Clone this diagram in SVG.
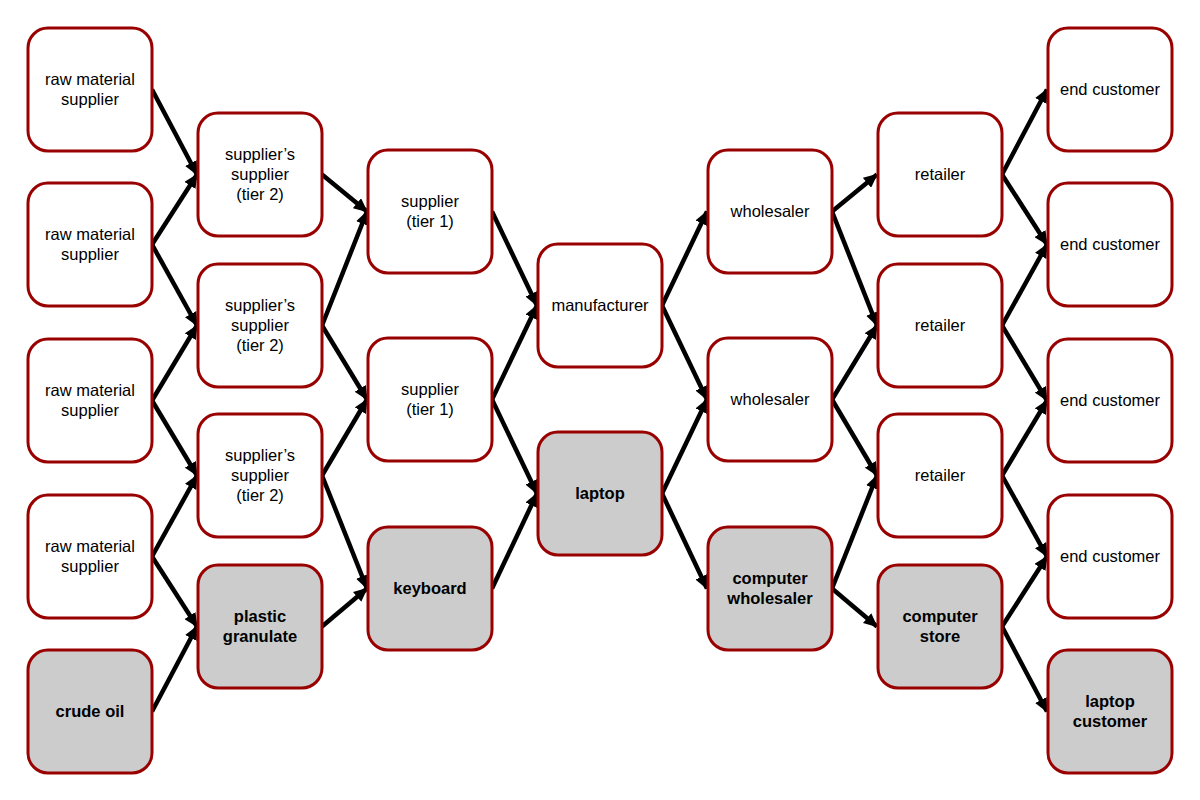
<svg xmlns="http://www.w3.org/2000/svg" width="1200" height="800" viewBox="0 0 1200 800">
<style>
.n rect{fill:#ffffff;stroke:#990000;stroke-width:3}
.g rect{fill:#cccccc;stroke:#990000;stroke-width:3}
text{font-family:"Liberation Sans",Arial,sans-serif;font-size:16.5px;fill:#000;text-anchor:middle;dominant-baseline:central}
.g text{font-weight:bold}
.c line{stroke:#000;stroke-width:4.5;marker-end:url(#ah)}
</style>
<defs>
<marker id="ah" markerUnits="userSpaceOnUse" markerWidth="14" markerHeight="13" refX="13" refY="6.5" orient="auto">
<path d="M0,0 L14,6.5 L0,13 z" fill="#000"/>
</marker>
</defs>
<rect width="1200" height="800" fill="#fff"/>
<g class="c" id="connectors">
<line x1="152" y1="89.5" x2="197" y2="174.5"/>
<line x1="152" y1="244.5" x2="197" y2="174.5"/>
<line x1="152" y1="244.5" x2="197" y2="325.5"/>
<line x1="152" y1="400.5" x2="197" y2="325.5"/>
<line x1="152" y1="400.5" x2="197" y2="475.5"/>
<line x1="152" y1="556.5" x2="197" y2="475.5"/>
<line x1="152" y1="556.5" x2="197" y2="626.5"/>
<line x1="152" y1="711.5" x2="197" y2="626.5"/>
<line x1="322" y1="174.5" x2="367" y2="211.5"/>
<line x1="322" y1="325.5" x2="367" y2="211.5"/>
<line x1="322" y1="325.5" x2="367" y2="399.5"/>
<line x1="322" y1="475.5" x2="367" y2="399.5"/>
<line x1="322" y1="475.5" x2="367" y2="588.5"/>
<line x1="322" y1="626.5" x2="367" y2="588.5"/>
<line x1="492" y1="211.5" x2="537" y2="305.5"/>
<line x1="492" y1="399.5" x2="537" y2="305.5"/>
<line x1="492" y1="399.5" x2="537" y2="493.5"/>
<line x1="492" y1="588.5" x2="537" y2="493.5"/>
<line x1="662" y1="305.5" x2="707" y2="211.5"/>
<line x1="662" y1="305.5" x2="707" y2="399.5"/>
<line x1="662" y1="493.5" x2="707" y2="399.5"/>
<line x1="662" y1="493.5" x2="707" y2="588.5"/>
<line x1="832" y1="211.5" x2="877" y2="174.5"/>
<line x1="832" y1="211.5" x2="877" y2="325.5"/>
<line x1="832" y1="399.5" x2="877" y2="325.5"/>
<line x1="832" y1="399.5" x2="877" y2="475.5"/>
<line x1="832" y1="588.5" x2="877" y2="475.5"/>
<line x1="832" y1="588.5" x2="877" y2="626.5"/>
<line x1="1002" y1="174.5" x2="1047" y2="89.5"/>
<line x1="1002" y1="174.5" x2="1047" y2="244.5"/>
<line x1="1002" y1="325.5" x2="1047" y2="244.5"/>
<line x1="1002" y1="325.5" x2="1047" y2="400.5"/>
<line x1="1002" y1="475.5" x2="1047" y2="400.5"/>
<line x1="1002" y1="475.5" x2="1047" y2="556.5"/>
<line x1="1002" y1="626.5" x2="1047" y2="556.5"/>
<line x1="1002" y1="626.5" x2="1047" y2="711.5"/>
</g>
<!-- column 1 -->
<g class="n" id="raw1"><rect x="28" y="28" width="124" height="123" rx="20"/><text><tspan x="90" y="79">raw material</tspan><tspan x="90" y="99">supplier</tspan></text></g>
<g class="n" id="raw2"><rect x="28" y="183" width="124" height="123" rx="20"/><text><tspan x="90" y="234">raw material</tspan><tspan x="90" y="254">supplier</tspan></text></g>
<g class="n" id="raw3"><rect x="28" y="339" width="124" height="123" rx="20"/><text><tspan x="90" y="390">raw material</tspan><tspan x="90" y="410">supplier</tspan></text></g>
<g class="n" id="raw4"><rect x="28" y="495" width="124" height="123" rx="20"/><text><tspan x="90" y="546">raw material</tspan><tspan x="90" y="566">supplier</tspan></text></g>
<g class="g" id="crude"><rect x="28" y="650" width="124" height="123" rx="20"/><text x="90" y="711">crude oil</text></g>
<!-- column 2 -->
<g class="n" id="ss1"><rect x="198" y="113" width="124" height="123" rx="20"/><text><tspan x="260" y="154">supplier’s</tspan><tspan x="260" y="174">supplier</tspan><tspan x="260" y="194">(tier 2)</tspan></text></g>
<g class="n" id="ss2"><rect x="198" y="264" width="124" height="123" rx="20"/><text><tspan x="260" y="305">supplier’s</tspan><tspan x="260" y="325">supplier</tspan><tspan x="260" y="345">(tier 2)</tspan></text></g>
<g class="n" id="ss3"><rect x="198" y="414" width="124" height="123" rx="20"/><text><tspan x="260" y="455">supplier’s</tspan><tspan x="260" y="475">supplier</tspan><tspan x="260" y="495">(tier 2)</tspan></text></g>
<g class="g" id="plastic"><rect x="198" y="565" width="124" height="123" rx="20"/><text><tspan x="260" y="616">plastic</tspan><tspan x="260" y="636">granulate</tspan></text></g>
<!-- column 3 -->
<g class="n" id="s1"><rect x="368" y="150" width="124" height="123" rx="20"/><text><tspan x="430" y="201">supplier</tspan><tspan x="430" y="221">(tier 1)</tspan></text></g>
<g class="n" id="s2"><rect x="368" y="338" width="124" height="123" rx="20"/><text><tspan x="430" y="389">supplier</tspan><tspan x="430" y="409">(tier 1)</tspan></text></g>
<g class="g" id="keyboard"><rect x="368" y="527" width="124" height="123" rx="20"/><text x="430" y="588">keyboard</text></g>
<!-- column 4 -->
<g class="n" id="manufacturer"><rect x="538" y="244" width="124" height="123" rx="20"/><text x="600" y="305">manufacturer</text></g>
<g class="g" id="laptop"><rect x="538" y="432" width="124" height="123" rx="20"/><text x="600" y="493">laptop</text></g>
<!-- column 5 -->
<g class="n" id="w1"><rect x="708" y="150" width="124" height="123" rx="20"/><text x="770" y="211">wholesaler</text></g>
<g class="n" id="w2"><rect x="708" y="338" width="124" height="123" rx="20"/><text x="770" y="399">wholesaler</text></g>
<g class="g" id="cw"><rect x="708" y="527" width="124" height="123" rx="20"/><text><tspan x="770" y="578">computer</tspan><tspan x="770" y="598">wholesaler</tspan></text></g>
<!-- column 6 -->
<g class="n" id="r1"><rect x="878" y="113" width="124" height="123" rx="20"/><text x="940" y="174">retailer</text></g>
<g class="n" id="r2"><rect x="878" y="264" width="124" height="123" rx="20"/><text x="940" y="325">retailer</text></g>
<g class="n" id="r3"><rect x="878" y="414" width="124" height="123" rx="20"/><text x="940" y="475">retailer</text></g>
<g class="g" id="cs"><rect x="878" y="565" width="124" height="123" rx="20"/><text><tspan x="940" y="616">computer</tspan><tspan x="940" y="636">store</tspan></text></g>
<!-- column 7 -->
<g class="n" id="ec1"><rect x="1048" y="28" width="124" height="123" rx="20"/><text x="1110" y="89">end customer</text></g>
<g class="n" id="ec2"><rect x="1048" y="183" width="124" height="123" rx="20"/><text x="1110" y="244">end customer</text></g>
<g class="n" id="ec3"><rect x="1048" y="339" width="124" height="123" rx="20"/><text x="1110" y="400">end customer</text></g>
<g class="n" id="ec4"><rect x="1048" y="495" width="124" height="123" rx="20"/><text x="1110" y="556">end customer</text></g>
<g class="g" id="lc"><rect x="1048" y="650" width="124" height="123" rx="20"/><text><tspan x="1110" y="701">laptop</tspan><tspan x="1110" y="721">customer</tspan></text></g>
</svg>
